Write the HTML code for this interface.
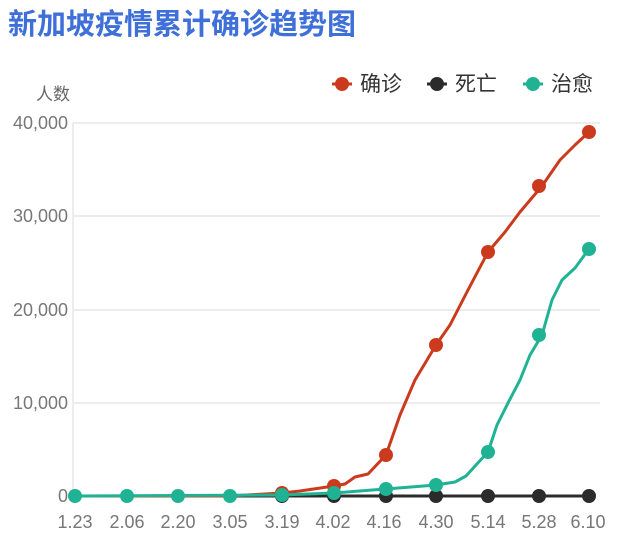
<!DOCTYPE html>
<html><head><meta charset="utf-8"><style>
body{margin:0;background:#fff;width:622px;height:535px;overflow:hidden}
svg{display:block}
</style></head><body>
<svg width="622" height="535" xmlns="http://www.w3.org/2000/svg" font-family="Liberation Sans, Noto Sans CJK SC, sans-serif">
<text x="8" y="34" font-size="29" font-weight="bold" fill="#3f6fd8" font-family="Noto Sans CJK SC, sans-serif">新加坡疫情累计确诊趋势图</text>
<g font-family="Noto Sans CJK SC, sans-serif" font-size="21" fill="#333">
<line x1="332" y1="84" x2="352" y2="84" stroke="#cc3a1e" stroke-width="3"/><circle cx="342" cy="84" r="7" fill="#cc3a1e"/><text x="360" y="91">确诊</text>
<line x1="427" y1="84" x2="447" y2="84" stroke="#2b2b2b" stroke-width="3"/><circle cx="437" cy="84" r="7" fill="#2b2b2b"/><text x="455" y="91">死亡</text>
<line x1="523" y1="84" x2="543" y2="84" stroke="#1fb394" stroke-width="3"/><circle cx="533" cy="84" r="7" fill="#1fb394"/><text x="551" y="91">治愈</text>
</g>
<text x="36" y="100" font-size="17" fill="#666" font-family="Noto Sans CJK SC, sans-serif">人数</text>
<g stroke="#e6e6e6" stroke-width="1.5">
<line x1="73" y1="123" x2="600" y2="123"/><line x1="73" y1="216" x2="600" y2="216"/>
<line x1="73" y1="310" x2="600" y2="310"/><line x1="73" y1="403" x2="600" y2="403"/>
<line x1="73" y1="123" x2="73" y2="496"/>
</g>
<g font-size="18" fill="#777" text-anchor="end">
<text x="68" y="129">40,000</text><text x="68" y="222">30,000</text><text x="68" y="316">20,000</text><text x="68" y="409">10,000</text><text x="68" y="502">0</text>
</g>
<g font-size="18" fill="#777" text-anchor="middle">
<text x="75" y="528">1.23</text><text x="127" y="528">2.06</text><text x="178" y="528">2.20</text><text x="230" y="528">3.05</text><text x="282" y="528">3.19</text><text x="333" y="528">4.02</text><text x="384" y="528">4.16</text><text x="436" y="528">4.30</text><text x="488" y="528">5.14</text><text x="539" y="528">5.28</text><text x="588" y="528">6.10</text>
</g>
<g fill="none" stroke-width="3" stroke-linejoin="round">
<polyline stroke="#2b2b2b" points="75,496 589,496"/>
<polyline stroke="#cc3a1e" points="75,496 230,496 282,493 300,491 334,486 345,484 355,477 368,474 386,455 400,415 415,380 436,345 450,325 468,290 488,252 505,232 520,212 542,186 560,160 575,145 589,132"/>
<polyline stroke="#1fb394" points="75,496 282,495 334,493 386,489 436,485 455,482 466,476 476,465 488,452 497,425 508,403 520,380 530,355 542,335 552,300 562,280 575,268 589,249"/>
</g>
<g fill="#2b2b2b">
<circle cx="282" cy="496" r="7"/><circle cx="334" cy="496" r="7"/><circle cx="386" cy="496" r="7"/><circle cx="436" cy="496" r="7"/><circle cx="488" cy="496" r="7"/><circle cx="539" cy="496" r="7"/><circle cx="589" cy="496" r="7"/>
</g>
<g fill="#cc3a1e">
<circle cx="282" cy="493" r="7"/><circle cx="334" cy="486" r="7"/><circle cx="386" cy="455" r="7"/><circle cx="436" cy="345" r="7"/><circle cx="488" cy="252" r="7"/><circle cx="539" cy="186" r="7"/><circle cx="589" cy="132" r="7"/>
</g>
<g fill="#1fb394">
<circle cx="75" cy="496" r="7"/><circle cx="127" cy="496" r="7"/><circle cx="178" cy="496" r="7"/><circle cx="230" cy="496" r="7"/><circle cx="282" cy="495" r="7"/><circle cx="334" cy="493" r="7"/><circle cx="386" cy="489" r="7"/><circle cx="436" cy="485" r="7"/><circle cx="488" cy="452" r="7"/><circle cx="539" cy="335" r="7"/><circle cx="589" cy="249" r="7"/>
</g>
</svg>
</body></html>
